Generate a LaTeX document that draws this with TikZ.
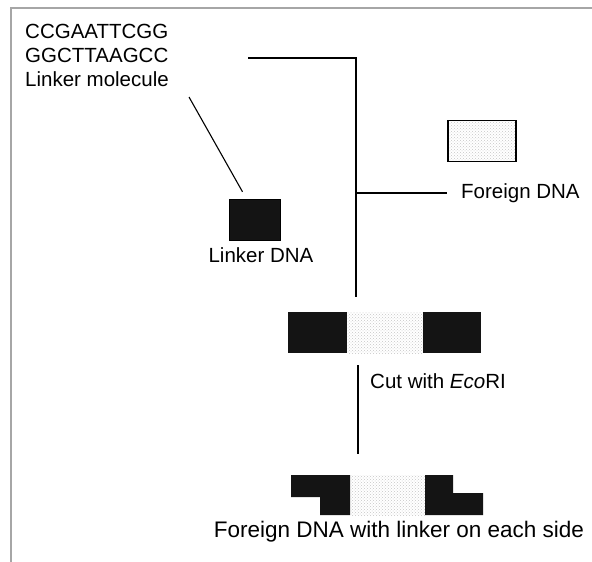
\documentclass[tikz,border=0pt]{standalone}
\usepackage{fontspec}
\setmainfont{Liberation Sans}
\usetikzlibrary{patterns}

\begin{document}
\begin{tikzpicture}[x=1pt, y=-1pt, every node/.style={font=\fontsize{20.5}{24}\selectfont, inner sep=0pt},
    linkerpart/.style={fill=black!92, minimum height=41pt},
    foreignpart/.style={pattern=crosshatch dots, pattern color=gray!45, minimum height=41pt},
    joinline/.style={line width=1.1pt}]
        \useasboundingbox (0,0) rectangle (592,562);
        % Frame
        \draw[gray!70, line width=2pt] (11,562) -- (11,8) -- (592,8);
        % Linker molecule
        \node[anchor=base west] (seqtop) at (25,38) {CCGAATTCGG};
        \node[anchor=base west] (seqbot) at (25,62) {GGCTTAAGCC};
        \node[anchor=base west] (molname) at (25,86) {Linker molecule};
        % Linker DNA
        \node[draw, linkerpart, minimum width=51pt] (linker) at (254.5,219.5) {};
        \node[anchor=base] (linkerlbl) at (261,262) {Linker DNA};
        % Foreign DNA
        \node[draw, foreignpart, line width=1.4pt, minimum width=68pt] (foreign) at (482,141) {};
        \node[anchor=base west] (foreignlbl) at (461,198) {Foreign DNA};
        % Ligated
        \node[linkerpart, minimum width=59pt] (jleft) at (317.5,332.5) {};
        \node[foreignpart, minimum width=76pt] (jmid) at (385,332.5) {};
        \node[linkerpart, minimum width=58pt] (jright) at (452,332.5) {};
        \node[anchor=base west] (cutlbl) at (370,388) {Cut with \emph{Eco}RI};
        % Sticky ends
        \fill[black!92] (291,475) -- (350,475) -- (350,515) -- (320,515) -- (320,497) -- (291,497) -- cycle;
        \node[foreignpart, minimum width=75pt, minimum height=40pt] (emid) at (387.5,495) {};
        \fill[black!92] (425,475) -- (453,475) -- (453,493) -- (483,493) -- (483,515) -- (425,515) -- cycle;
        \node[anchor=base, font=\fontsize{22.5}{26}\selectfont] (endslbl) at (399,537) {Foreign DNA with linker on each side};

        \coordinate (seqend) at (248,58);
        \coordinate (trunk) at (356,297);
        \coordinate (branch) at (356,193);
        \coordinate (molend) at (189,97);
        \coordinate (cuttop) at (358,365);
        \coordinate (cutbot) at (358,454);

        \draw[joinline] (seqend) -| (trunk);
        \draw[joinline] (branch) -- ([xshift=-14pt]foreignlbl.west |- branch);
        \draw[joinline] (molend) -- ([xshift=-12pt, yshift=7pt]linker.north);
        \draw[joinline] (cuttop) -- (cutbot);
    \end{tikzpicture}
\end{document}
